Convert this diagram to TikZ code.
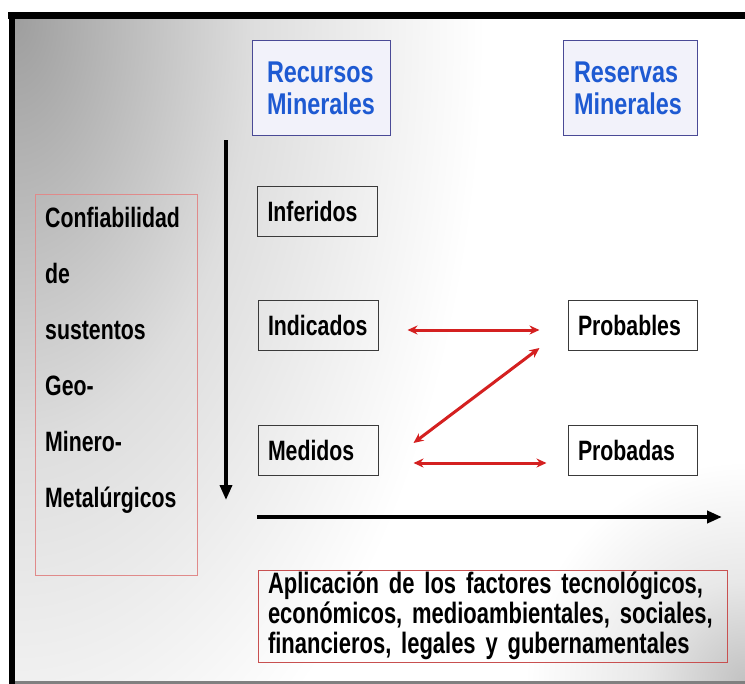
\documentclass[tikz,border=0pt]{standalone}
\usepackage{fontspec}
\setmainfont{Liberation Sans}[FakeStretch=0.76]
\newfontfamily\bluefont{Liberation Sans}[FakeStretch=0.78]
\newfontfamily\bottomfont{Liberation Sans}[FakeStretch=0.745]
\usetikzlibrary{arrows.meta,calc}
\definecolor{bluetxt}{HTML}{1E5AD2}
\definecolor{hdrborder}{HTML}{4A4A96}
\definecolor{hdrfill}{HTML}{F2F2FA}
\definecolor{catborder}{HTML}{3A3A3A}
\definecolor{redlight}{HTML}{E08A8A}
\definecolor{redbox}{HTML}{C85050}
\definecolor{redarrow}{HTML}{D42020}
\pgfdeclareradialshading{tlshade}{\pgfpoint{0bp}{0bp}}{color(0bp)=(black!38); color(240bp)=(black!13); color(470bp)=(white); color(900bp)=(white)}
\pgfdeclareradialshading{brshade}{\pgfpoint{0bp}{0bp}}{color(0bp)=(black!24); color(100bp)=(black!9); color(220bp)=(white); color(222bp)=(white)}
\begin{document}
\begin{tikzpicture}[x=1bp,y=-1bp,
  hdr/.style={draw=hdrborder, fill=hdrfill, line width=1bp, minimum height=95bp,
    inner ysep=0pt, align=left, text=bluetxt,
    font=\bluefont\fontsize{30bp}{32bp}\selectfont\bfseries},
  cat/.style={draw=catborder, line width=1bp, minimum height=50bp, inner xsep=10bp,
    inner ysep=0pt, align=left, font=\fontsize{28bp}{30bp}\selectfont\bfseries},
  redbox/.style={line width=1bp, inner sep=0pt},
  redarr/.style={draw=redarrow, line width=3bp,
    {Stealth[length=10bp,width=9bp]}-{Stealth[length=10bp,width=9bp]}},
  blackarr/.style={draw=black, line width=3.5bp, -{Triangle[length=15bp,width=12bp]}}
]
\useasboundingbox (0,0) rectangle (745,684);
\fill[white] (0,0) rectangle (745,684);
\begin{scope}
  \clip (15,18) rectangle (745,681);
  \node[inner sep=0pt, outer sep=0pt] (bgtl) at (15,18) {\scalebox{1}[1.8]{\pgfuseshading{tlshade}}};
  \node[inner sep=0pt, outer sep=0pt] (bgbr) at (745,681) {\pgfuseshading{brshade}};
\end{scope}
% frame
\fill[black] (8,12) rectangle (745,19);
\fill[black] (9,12) rectangle (15,684);
\fill[black!50] (15,681) rectangle (745,684);

% headers
\node[hdr, text width=108bp, inner xsep=15bp] (rec) at (321,88) {Recursos\\Minerales};
\node[hdr, text width=112bp, inner xsep=11bp] (res) at (630,88) {Reservas\\Minerales};

% categories
\node[cat, text width=100bp] (inf) at (317.5,211) {Inferidos};
\node[cat, text width=100bp] (ind) at (318,325) {Indicados};
\node[cat, text width=100bp] (med) at (318,450) {Medidos};
\node[cat, text width=109bp] (prob) at (632.5,325) {Probables};
\node[cat, text width=109bp] (proba) at (632.5,450) {Probadas};

% left box
\node[redbox, draw=redlight, minimum width=161bp, minimum height=380bp] (lbox) at (116.5,385) {};
\node[inner sep=0pt, anchor=north west, align=left,
  font=\fontsize{28bp}{56bp}\selectfont\bfseries] (ltext) at (45,207)
  {Confiabilidad\\de\\sustentos\\Geo-\\Minero-\\Metalúrgicos};

% bottom box
\node[redbox, draw=redbox, text width=461bp, inner xsep=4bp, minimum height=92bp,
  align=left, font=\bottomfont\fontsize{29.5bp}{30bp}\selectfont\bfseries] (bbox) at (492.5,616)
  {\hspace*{6bp}Aplicación de los factores tecnológicos,\\\hspace*{6bp}económicos, medioambientales, sociales,\\\hspace*{6bp}financieros, legales y gubernamentales};

% black arrows
\coordinate (vt) at (226,140);
\coordinate (vb) at (226,500);
\coordinate (hl) at ($(inf.west |- 0,517)$);
\coordinate (hr) at (722,517);
\draw[blackarr] (vt) -- (vb);
\draw[blackarr, line width=4.5bp] (hl) -- (hr);

% red arrows
\coordinate (r1a) at ($(ind.east)+(29,5)$);
\coordinate (r1b) at ($(prob.west)+(-28,5)$);
\coordinate (r2a) at ($(prob.west)+(-28,23)$);
\coordinate (r2b) at ($(med.east)+(35,-7)$);
\coordinate (r3a) at ($(med.east)+(35,13)$);
\coordinate (r3b) at ($(proba.west)+(-21,13)$);
\draw[redarr] (r1a) -- (r1b);
\draw[redarr] (r2a) -- (r2b);
\draw[redarr] (r3a) -- (r3b);
\end{tikzpicture}
\end{document}
